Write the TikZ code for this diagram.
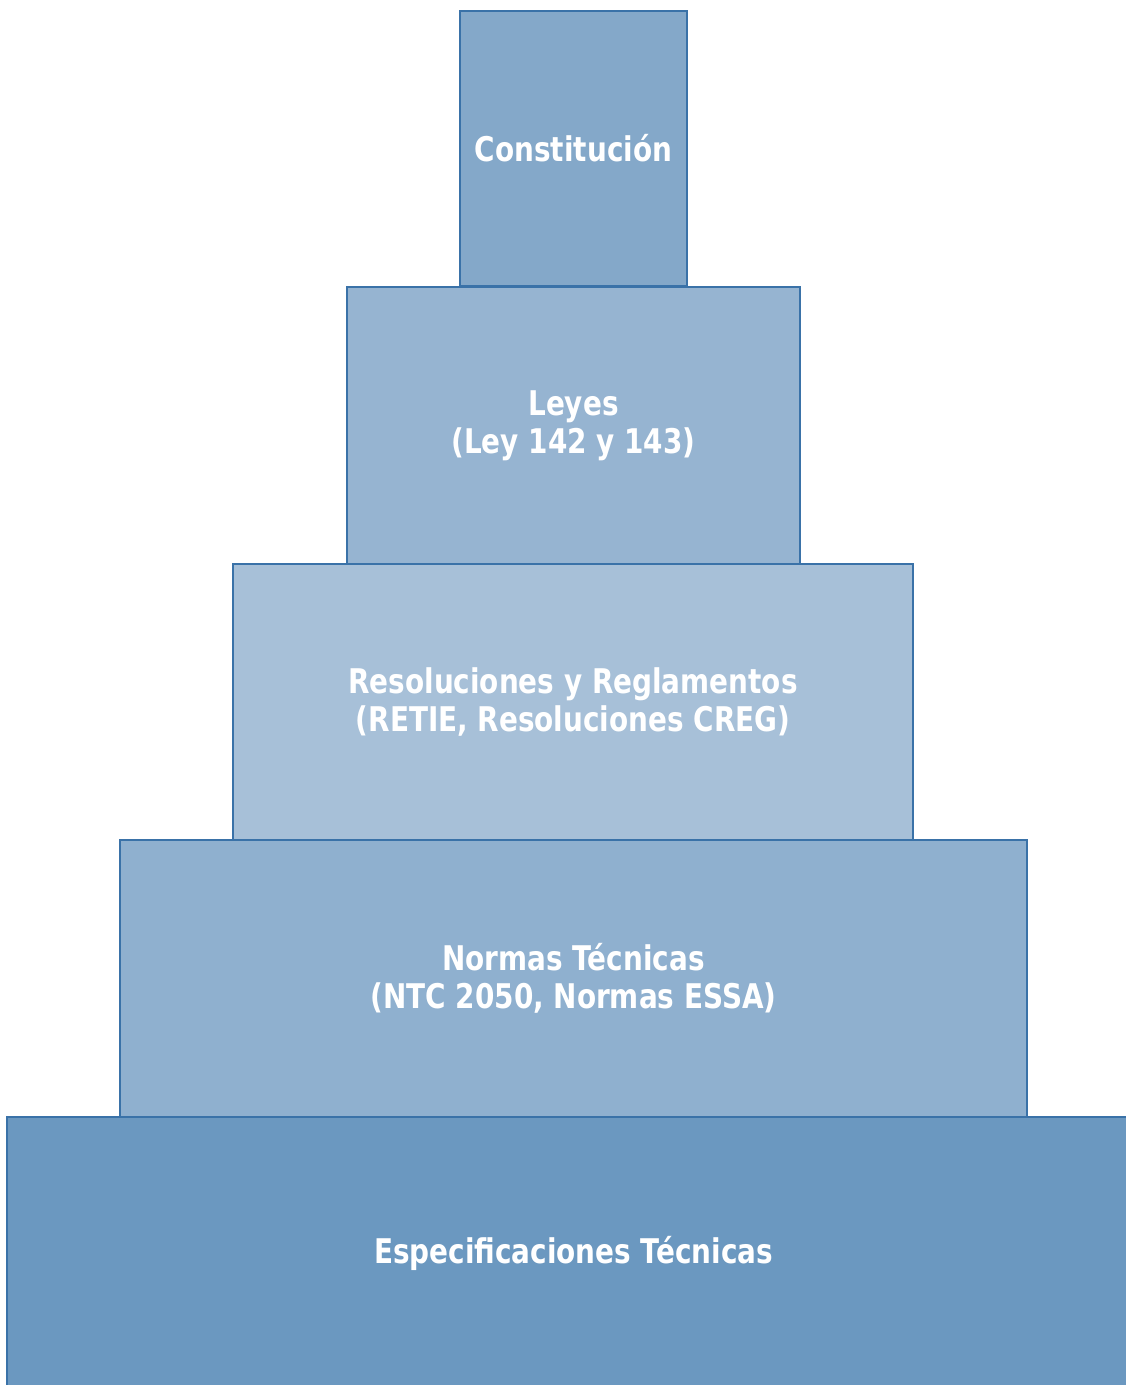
\documentclass[tikz,border=0pt]{standalone}
\usepackage{fontspec}
\newfontfamily\lbl{DejaVu Sans}[FakeStretch=0.82]
\definecolor{edgeblue}{HTML}{3A72A8}
\definecolor{cA}{HTML}{84A8C9}
\definecolor{cB}{HTML}{96B4D1}
\definecolor{cC}{HTML}{A7C0D8}
\definecolor{cD}{HTML}{8FB0CF}
\definecolor{cE}{HTML}{6B98C0}
\tikzset{
  tier/.style={draw=edgeblue, line width=2.4pt, rectangle, inner sep=0pt, outer sep=0pt,
    text=white, align=center, font=\lbl\bfseries\fontsize{34}{38}\selectfont},
}
\begin{document}
\begin{tikzpicture}[x=1pt,y=-1pt]
\useasboundingbox (0,0) rectangle (1126,1385);
\clip (0,0) rectangle (1126,1385);
\node[tier, fill=cE, minimum width=1133pt, minimum height=273pt] (esp) at (573.5,1253.5) {Especificaciones Técnicas};
\node[tier, fill=cD, minimum width=907pt, minimum height=277pt] (nor) at (573.5,978.5) {Normas Técnicas\\(NTC 2050, Normas ESSA)};
\node[tier, fill=cC, minimum width=680pt, minimum height=276pt] (res) at (573,702) {Resoluciones y Reglamentos\\(RETIE, Resoluciones CREG)};
\node[tier, fill=cB, minimum width=453pt, minimum height=277pt] (ley) at (573.5,425.5) {Leyes\\(Ley 142 y 143)};
\node[tier, fill=cA, minimum width=227pt, minimum height=275pt] (con) at (573.5,148.5) {Constitución};
\end{tikzpicture}
\end{document}
